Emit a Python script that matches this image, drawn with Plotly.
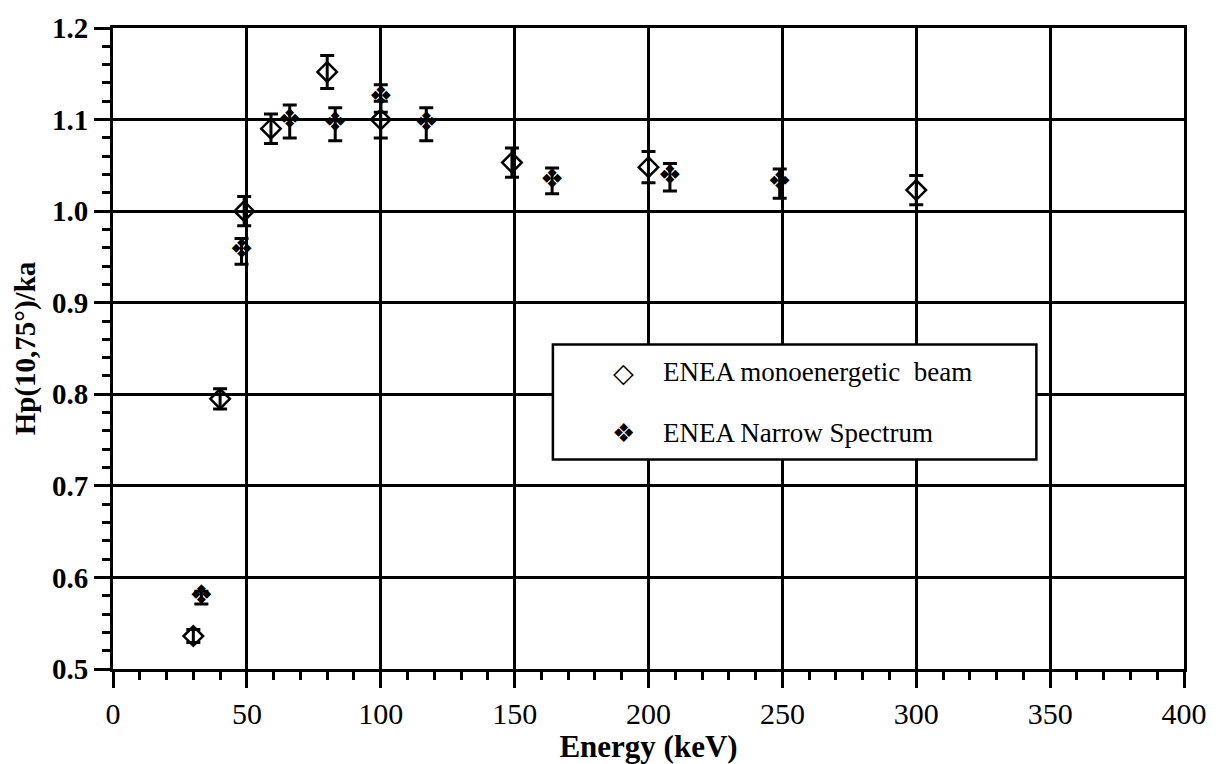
import plotly.graph_objects as go

# ENEA monoenergetic beam
mono_energy = [30, 40, 49, 59, 80, 100, 149, 200, 300]
mono_value = [0.536, 0.795, 1.000, 1.090, 1.152, 1.100, 1.053, 1.048, 1.023]
mono_err = [0.007, 0.011, 0.016, 0.016, 0.018, 0.020, 0.016, 0.017, 0.016]

# ENEA Narrow Spectrum
narrow_energy = [33, 48, 66, 83, 100, 117, 164, 208, 249]
narrow_value = [0.578, 0.956, 1.098, 1.095, 1.123, 1.095, 1.033, 1.037, 1.030]
narrow_err = [0.007, 0.014, 0.018, 0.018, 0.015, 0.018, 0.014, 0.015, 0.016]

series_names = ["ENEA monoenergetic  beam", "ENEA Narrow Spectrum"]
series_glyphs = ["\u25C7", "\u2756"]

x_ticks = [0, 50, 100, 150, 200, 250, 300, 350, 400]
y_ticks = [0.5, 0.6, 0.7, 0.8, 0.9, 1.0, 1.1, 1.2]
y_tick_text = ["0.5", "0.6", "0.7", "0.8", "0.9", "1.0", "1.1", "1.2"]

W, H = 1219, 764
ML, MR, MT, MB = 113, 25, 25, 87
PW, PH = W - ML - MR, H - MT - MB

def px_x(p):
    return (p - ML) / PW

def px_y(p):
    return 1 - (p - MT) / PH

SERIF = "Liberation Serif, Times New Roman, serif"
SYM = "DejaVu Sans"

fig = go.Figure()

fig.add_trace(go.Scatter(
    x=mono_energy, y=mono_value, mode="markers",
    name=series_names[0], showlegend=False,
    marker=dict(symbol="diamond-open", size=15, color="black", line=dict(width=2.5, color="black")),
    error_y=dict(type="data", array=mono_err, visible=True, color="black", thickness=3, width=7),
))
fig.add_trace(go.Scatter(
    x=narrow_energy, y=narrow_value, mode="text",
    name=series_names[1], showlegend=False,
    text=[series_glyphs[1]] * len(narrow_energy), textposition="middle center",
    textfont=dict(family=SYM, size=27, color="black"),
    error_y=dict(type="data", array=narrow_err, visible=True, color="black", thickness=3, width=7),
))

# legend box (drawn manually)
fig.add_shape(type="rect", xref="paper", yref="paper",
              x0=px_x(557), x1=px_x(1045), y0=px_y(464), y1=px_y(347),
              line=dict(color="black", width=2.5), fillcolor="white", layer="above")

legend_rows = [375, 437]
legend_sizes = [27, 26]
for name, glyph, row, gsize in zip(series_names, series_glyphs, legend_rows, legend_sizes):
    fig.add_annotation(xref="paper", yref="paper", x=px_x(628), y=px_y(row),
                       text=glyph, showarrow=False, xanchor="center", yanchor="middle",
                       font=dict(family=SYM, size=gsize, color="black"))
    fig.add_annotation(xref="paper", yref="paper", x=px_x(666), y=px_y(row),
                       text=name, showarrow=False, xanchor="left", yanchor="middle",
                       font=dict(family=SERIF, size=27, color="black"))

fig.update_layout(
    width=W, height=H,
    margin=dict(l=ML, r=MR, t=MT, b=MB),
    paper_bgcolor="white", plot_bgcolor="white",
    showlegend=False,
    font=dict(family=SERIF, color="black"),
)

fig.update_xaxes(
    range=[0, 400], tickvals=x_ticks, ticktext=[str(v) for v in x_ticks],
    showgrid=True, gridcolor="black", gridwidth=3,
    showline=True, linecolor="black", linewidth=3, mirror=True,
    ticks="outside", ticklen=16, tickwidth=3, tickcolor="black",
    tickfont=dict(family=SERIF, size=30, color="black"),
    minor=dict(dtick=10, tick0=0, ticks="outside", ticklen=8, tickwidth=3, tickcolor="black", showgrid=False),
    zeroline=False,
    title=dict(text="<b>Energy (keV)</b>", font=dict(family=SERIF, size=31, color="black"), standoff=0),
)
fig.update_yaxes(
    range=[0.5, 1.2], tickvals=y_ticks, ticktext=["<b>%s</b>" % t for t in y_tick_text],
    showgrid=True, gridcolor="black", gridwidth=3,
    showline=True, linecolor="black", linewidth=3, mirror=True,
    ticks="outside", ticklen=16, tickwidth=3, tickcolor="black",
    tickfont=dict(family=SERIF, size=29, color="black"),
    minor=dict(dtick=0.02, tick0=0.5, ticks="outside", ticklen=8, tickwidth=3, tickcolor="black", showgrid=False),
    zeroline=False,
    title=dict(text="<b>Hp(10,75°)/ka</b>", font=dict(family=SERIF, size=29, color="black"), standoff=8),
)

fig.write_html("out.html")
